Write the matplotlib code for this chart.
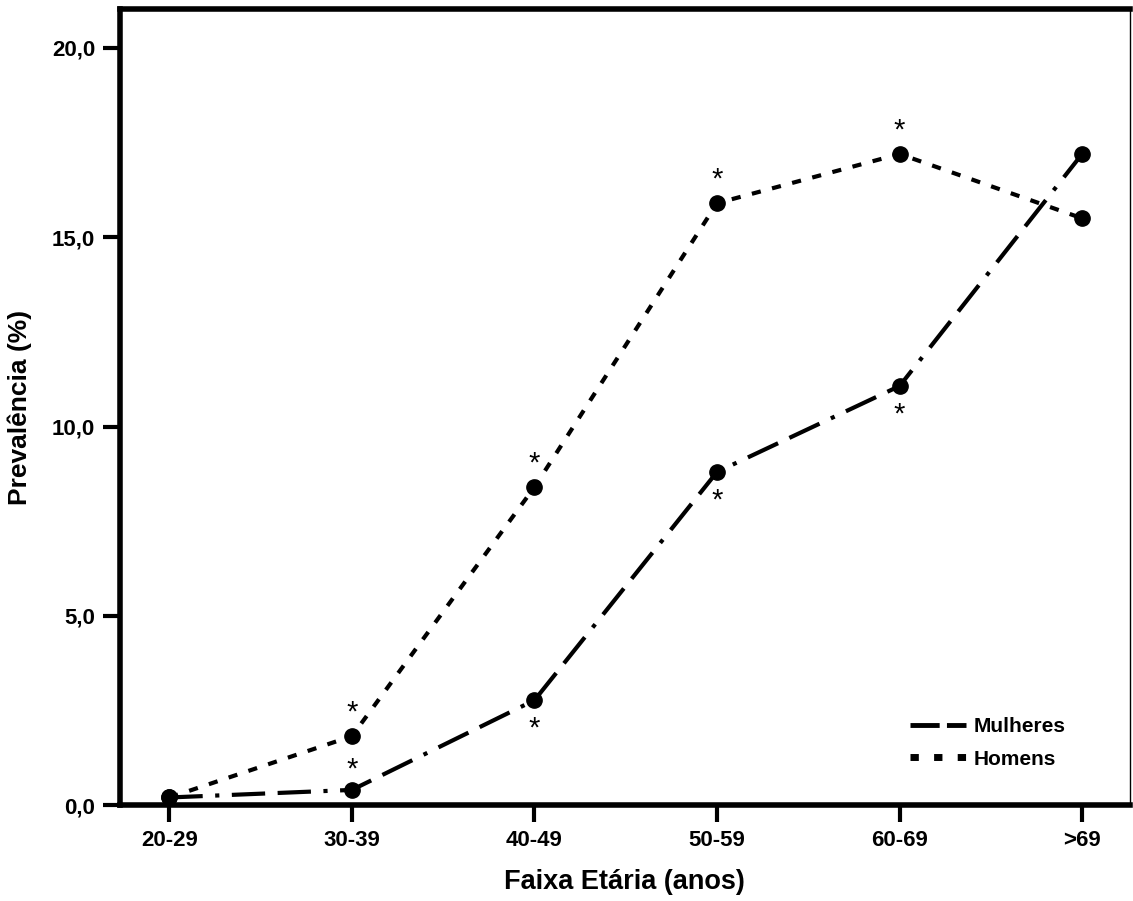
import matplotlib.pyplot as plt
from matplotlib.lines import Line2D
import numpy as np

plt.rcParams['font.family'] = ['Liberation Sans', 'DejaVu Sans']
plt.rcParams['font.weight'] = 'bold'

faixas = ['20-29', '30-39', '40-49', '50-59', '60-69', '>69']
mulheres = [0.2, 0.4, 2.77, 8.8, 11.07, 17.2]
homens = [0.2, 1.82, 8.4, 15.9, 17.2, 15.5]
# asterisks: index, above the point?
sig_mulheres = [(1, True), (2, False), (3, False), (4, False)]
sig_homens = [1, 2, 3, 4]

x = np.arange(len(faixas))

fig = plt.figure(figsize=(11.33, 9.01), dpi=100)
ax = fig.add_axes([0.106, 0.1065, 0.891, 0.8835])

ax.plot(x, mulheres, color='black', lw=3, linestyle=(0, (8, 3, 1, 3, 8, 3)),
        marker='o', ms=11)
ax.plot(x, homens, color='black', lw=3, linestyle=(0, (2.2, 2.8)),
        marker='o', ms=11)

for i, above in sig_mulheres:
    dy = 0.55 if above else -0.75
    ax.text(x[i], mulheres[i] + dy, '*', ha='center', va='center',
            fontsize=21, fontweight='normal')
for i in sig_homens:
    ax.text(x[i], homens[i] + 0.62, '*', ha='center', va='center',
            fontsize=21, fontweight='normal')

ax.set_xlim(-0.27, 5.26)
ax.set_ylim(0, 21.03)
ax.set_xticks(x)
ax.set_xticklabels(faixas)
ax.set_yticks([0, 5, 10, 15, 20])
ax.set_yticklabels(['0,0', '5,0', '10,0', '15,0', '20,0'])
ax.tick_params(axis='both', labelsize=16, width=3, length=12, direction='out', pad=6)

for s in ['left', 'bottom', 'top']:
    ax.spines[s].set_linewidth(4)
ax.spines['right'].set_linewidth(1)

ax.set_xlabel('Faixa Etária (anos)', fontsize=19.5, fontweight='bold', labelpad=13)
ax.set_ylabel('Prevalência (%)', fontsize=19, fontweight='bold', labelpad=14)

handles = [Line2D([], [], color='black', lw=3.5, linestyle=(0, (6, 1.5))),
           Line2D([], [], color='black', lw=5, linestyle=(0, (1.2, 2.2)))]
ax.legend(handles, ['Mulheres', 'Homens'], loc='upper left',
          bbox_to_anchor=(0.764, 0.134), frameon=False, fontsize=15,
          handlelength=2.7, handletextpad=0.35, labelspacing=0.65)

fig.savefig('out.png', dpi=100)
